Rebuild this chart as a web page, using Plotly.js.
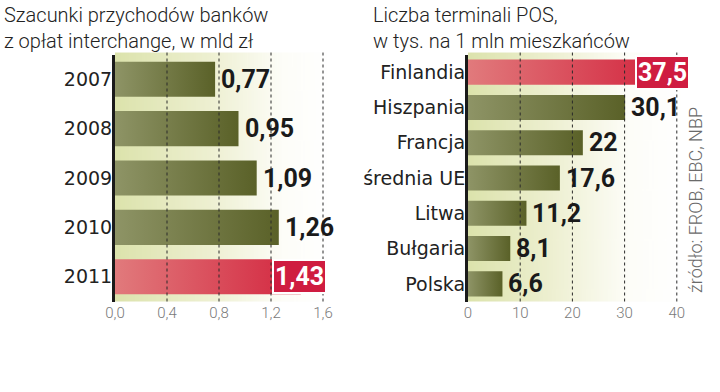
<!DOCTYPE html>
<html>
<head>
<meta charset="utf-8">
<script src="https://cdn.plot.ly/plotly-3.0.1.min.js"></script>
<style>html,body{margin:0;padding:0;background:#fff}#chart{width:720px;height:392px}</style>
</head>
<body>
<div id="chart"></div>
<script>
// ---- data ----
const years = ['2007', '2008', '2009', '2010', '2011'];
const revenue = [0.77, 0.95, 1.09, 1.26, 1.43];
const revenueHighlight = [false, false, false, false, true];
const revenueTicks = [0, 0.4, 0.8, 1.2, 1.6];
const revenueTickText = ['0,0', '0,4', '0,8', '1,2', '1,6'];

const countries = ['Finlandia', 'Hiszpania', 'Francja', 'średnia UE', 'Litwa', 'Bułgaria', 'Polska'];
const posTerminals = [37.5, 30.1, 22, 17.6, 11.2, 8.1, 6.6];
const posHighlight = [true, false, false, false, false, false, false];
const posTicks = [0, 10, 20, 30, 40];
const posTickText = ['0', '10', '20', '30', '40'];

const titleLeft = 'Szacunki przychodów banków<br>z opłat interchange, w mld zł';
const titleRight = 'Liczba terminali POS,<br>w tys. na 1 mln mieszkańców';
const sourceText = 'źródło: FROB, EBC, NBP';

// ---- styles ----
const W = 720, H = 392;
const yDom = [(H - 301.5) / H, (H - 54.5) / H];
const xDomL = [115 / W, (115 + 1.65 * 130) / W];
const xDomR = [468 / W, (468 + 41 * 5.22) / W];
const half = 0.355;
const oliveScale = [[0, '#8e9466'], [1, '#5a6128']];
const redScale = [[0, '#e17a7c'], [1, '#d3263f']];
const valueFont = {family: 'Roboto, "Liberation Sans", sans-serif', size: 25, color: '#1a1a1a', weight: 700};
const catFont = {family: '"DejaVu Sans", sans-serif', size: 19, color: '#222'};
const tickFont = {family: 'Roboto, "Open Sans", sans-serif', size: 15, color: '#7a7a7a', weight: 300};

function fmt(v, dec) {
  return (dec === null ? String(v) : v.toFixed(dec)).replace('.', ',');
}

const traces = [];
const annotations = [];

function addChart(values, highlight, xa, ya, dec) {
  values.forEach((v, i) => {
    traces.push({
      type: 'scatter', mode: 'lines', fill: 'toself',
      x: [0, v, v, 0, 0], y: [i - half, i - half, i + half, i + half, i - half],
      xaxis: xa, yaxis: ya,
      line: {width: 0},
      fillgradient: {type: 'horizontal', colorscale: highlight[i] ? redScale : oliveScale},
      hoverinfo: 'skip', showlegend: false
    });
    if (highlight[i]) {
      annotations.push({
        xref: xa, yref: ya, x: v, y: i, xanchor: 'center', yanchor: 'middle', xshift: -1,
        text: fmt(v, dec), showarrow: false,
        font: Object.assign({}, valueFont, {color: '#ffffff'}),
        bgcolor: '#cf1c40', bordercolor: '#ffffff', borderwidth: 2, borderpad: 1
      });
    } else {
      annotations.push({
        xref: xa, yref: ya, x: v, y: i, xanchor: 'left', yanchor: 'middle', xshift: 4,
        text: fmt(v, dec), showarrow: false, font: valueFont
      });
    }
  });
}
addChart(revenue, revenueHighlight, 'x', 'y', 2);
addChart(posTerminals, posHighlight, 'x2', 'y2', null);

// gridlines drawn above bars
const shapes = [];
revenueTicks.slice(1).forEach(t => shapes.push({type: 'line', xref: 'x', yref: 'paper', x0: t, x1: t, y0: yDom[0], y1: yDom[1] + 0.005, layer: 'above', line: {color: '#2a2a2a', width: 1, dash: '3px,3px'}}));
posTicks.slice(1).forEach(t => shapes.push({type: 'line', xref: 'x2', yref: 'paper', x0: t, x1: t, y0: yDom[0], y1: yDom[1] + 0.005, layer: 'above', line: {color: '#2a2a2a', width: 1, dash: '3px,3px'}}));

// background gradient image
function gradImg(stops) {
  const c = document.createElement('canvas');
  c.width = 200; c.height = 10;
  const g = c.getContext('2d');
  const lg = g.createLinearGradient(0, 0, 200, 0);
  stops.forEach(s => lg.addColorStop(s[0], s[1]));
  g.fillStyle = lg; g.fillRect(0, 0, 200, 10);
  return c.toDataURL();
}
const bgL = gradImg([[0, '#dce3ac'], [0.45, '#eef0d2'], [0.78, '#fdfdf8'], [1, '#ffffff']]);
const bgR = gradImg([[0, '#dce3ac'], [0.4, '#eef0d2'], [0.75, '#fdfdf8'], [1, '#ffffff']]);

annotations.push(
  {xref: 'paper', yref: 'paper', x: 2 / W, y: 1 - 1 / H, xanchor: 'left', yanchor: 'top', align: 'left', showarrow: false,
   text: titleLeft, font: {family: 'Roboto, "Open Sans", sans-serif', size: 20, color: '#222', weight: 300}},
  {xref: 'paper', yref: 'paper', x: 371 / W, y: 1 - 1 / H, xanchor: 'left', yanchor: 'top', align: 'left', showarrow: false,
   text: titleRight, font: {family: 'Roboto, "Open Sans", sans-serif', size: 20, color: '#222', weight: 300}},
  {xref: 'paper', yref: 'paper', x: 695 / W, y: 1 - 200 / H, xanchor: 'center', yanchor: 'middle', textangle: -90, showarrow: false,
   text: sourceText, font: {family: 'Roboto, "Open Sans", sans-serif', size: 18, color: '#6a6a6a', weight: 300}}
);

const axX = {
  showgrid: false, zeroline: false, showline: false, ticks: '', tickfont: tickFont, fixedrange: true
};
const axY = {
  showgrid: false, zeroline: false, showline: true, linecolor: '#1a1a1a', linewidth: 3,
  ticks: '', tickfont: catFont, domain: yDom, fixedrange: true, ticklabelstandoff: -4
};

const layout = {
  width: W, height: H,
  margin: {l: 0, r: 0, t: 0, b: 0},
  paper_bgcolor: '#ffffff', plot_bgcolor: 'rgba(0,0,0,0)',
  showlegend: false,
  xaxis: Object.assign({}, axX, {domain: xDomL, range: [0, 1.65], anchor: 'y', tickvals: revenueTicks, ticktext: revenueTickText}),
  yaxis: Object.assign({}, axY, {anchor: 'x', range: [years.length - 0.5, -0.5], tickvals: years.map((_, i) => i), ticktext: years}),
  xaxis2: Object.assign({}, axX, {domain: xDomR, range: [0, 41], anchor: 'y2', tickvals: posTicks, ticktext: posTickText}),
  yaxis2: Object.assign({}, axY, {anchor: 'x2', range: [countries.length - 0.5, -0.5], tickvals: countries.map((_, i) => i), ticktext: countries}),
  images: [
    {source: bgL, xref: 'paper', yref: 'paper', x: xDomL[0], y: yDom[1] + 0.005, sizex: xDomL[1] - xDomL[0], sizey: yDom[1] - yDom[0] + 0.005, sizing: 'stretch', layer: 'below', xanchor: 'left', yanchor: 'top'},
    {source: bgR, xref: 'paper', yref: 'paper', x: xDomR[0], y: yDom[1] + 0.005, sizex: xDomR[1] - xDomR[0], sizey: yDom[1] - yDom[0] + 0.005, sizing: 'stretch', layer: 'below', xanchor: 'left', yanchor: 'top'}
  ],
  shapes: shapes,
  annotations: annotations
};

Plotly.newPlot('chart', traces, layout, {displayModeBar: false, staticPlot: true});
</script>
</body>
</html>
